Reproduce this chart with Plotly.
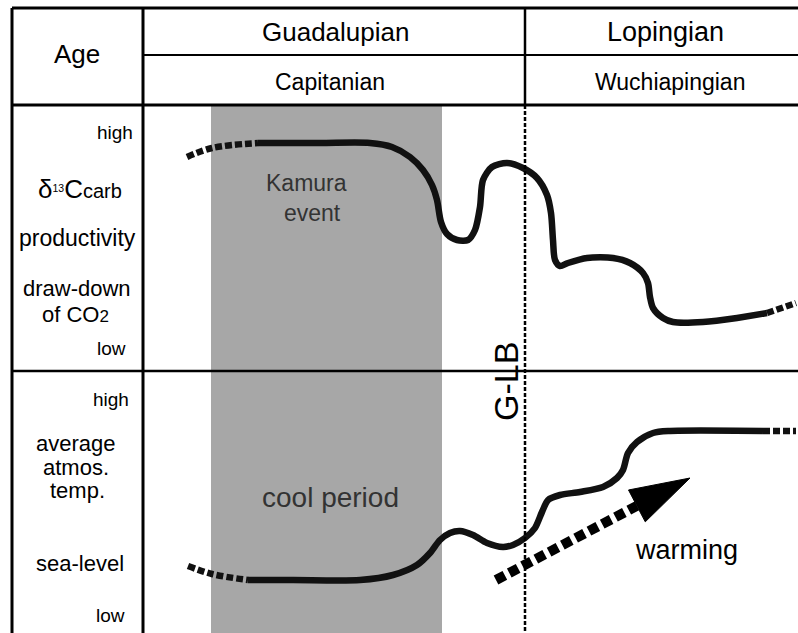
import numpy as np
import plotly.graph_objects as go

# ---- canvas units (schematic coordinates) ----
W, H = 798, 633

# upper panel curve: d13C / productivity / CO2 draw-down
upper_x = [258, 320, 370, 392, 410, 423, 432, 437, 441, 447, 457, 468, 475, 480, 483, 492,
           507, 523, 537, 547, 551, 553, 555, 560, 568, 587, 613, 630, 643, 648, 650, 653,
           663, 673, 703, 737, 767]
upper_y = [143, 143, 143, 147, 157, 170, 185, 200, 222, 234, 240, 240, 230, 207, 180, 167,
           163, 168, 178, 195, 213, 240, 260, 266, 263, 258, 258, 263, 273, 283, 297, 308,
           318, 322, 322, 318, 313]
upper_lead_x = [187, 212, 258]
upper_lead_y = [157, 148, 143]
upper_tail_x = [767, 796]
upper_tail_y = [313, 303]

# lower panel curve: temperature / sea-level
lower_x = [248, 293, 360, 393, 417, 430, 440, 450, 460, 473, 487, 503, 513, 525, 535, 542,
           548, 560, 580, 603, 617, 623, 628, 637, 653, 670, 763]
lower_y = [580, 580, 580, 575, 565, 553, 540, 533, 531, 535, 543, 547, 545, 538, 528, 512,
           500, 495, 492, 487, 478, 470, 453, 442, 433, 431, 431]
lower_lead_x = [188, 212, 248]
lower_lead_y = [566, 574, 580]
lower_tail_x = [763, 796]
lower_tail_y = [431, 431]

# warming arrow
arrow_start = (496, 580)
arrow_tip = (690, 478)
head_len, head_wid = 60, 36

# table structure
col_left, col_div, era_div = 12, 143, 525
row_top, row_mid, row_head, row_panel = 8, 55, 105, 371
shade_x = (211, 442)
glb_x = 525

header_top = ["Guadalupian", "Lopingian"]
header_top_x = [335, 665]
header_sub = ["Capitanian", "Wuchiapingian"]
header_sub_x = [330, 670]

fig = go.Figure()

ink = "#111111"
LW = 6.5
fig.add_trace(go.Scatter(x=upper_lead_x, y=upper_lead_y, mode="lines",
                         line=dict(color=ink, width=LW, dash="7px,3px", shape="spline"),
                         hoverinfo="skip"))
fig.add_trace(go.Scatter(x=upper_x, y=upper_y, mode="lines",
                         line=dict(color=ink, width=LW, shape="spline", smoothing=0.8),
                         hoverinfo="skip"))
fig.add_trace(go.Scatter(x=upper_tail_x, y=upper_tail_y, mode="lines",
                         line=dict(color=ink, width=LW, dash="7px,3px"), hoverinfo="skip"))
fig.add_trace(go.Scatter(x=lower_lead_x, y=lower_lead_y, mode="lines",
                         line=dict(color=ink, width=LW, dash="7px,3px", shape="spline"),
                         hoverinfo="skip"))
fig.add_trace(go.Scatter(x=lower_x, y=lower_y, mode="lines",
                         line=dict(color=ink, width=LW, shape="spline", smoothing=0.8),
                         hoverinfo="skip"))
fig.add_trace(go.Scatter(x=lower_tail_x, y=lower_tail_y, mode="lines",
                         line=dict(color=ink, width=LW, dash="7px,3px"), hoverinfo="skip"))

# arrow: dashed shaft + filled head
sx, sy = arrow_start
tx, ty = arrow_tip
d = np.array([tx - sx, ty - sy], dtype=float)
L = np.hypot(*d)
u = d / L
n = np.array([-u[1], u[0]])
base = np.array([tx, ty]) - u * head_len
fig.add_trace(go.Scatter(x=[sx, base[0]], y=[sy, base[1]], mode="lines",
                         line=dict(color="black", width=10, dash="10px,5px"), hoverinfo="skip"))
p1 = base + n * head_wid / 2
p2 = base - n * head_wid / 2
fig.add_trace(go.Scatter(x=[tx, p1[0], p2[0], tx], y=[ty, p1[1], p2[1], ty], mode="lines",
                         fill="toself", fillcolor="black", line=dict(color="black", width=1),
                         hoverinfo="skip"))

shapes = []
# shaded interval
shapes.append(dict(type="rect", x0=shade_x[0], x1=shade_x[1], y0=row_head, y1=H,
                   fillcolor="#a7a7a7", line=dict(width=0), layer="below"))
# G-LB boundary
shapes.append(dict(type="line", x0=glb_x, x1=glb_x, y0=row_head, y1=H,
                   line=dict(color="black", width=2.5, dash="4px,2px")))
thick = 3
def hline(y, x0, x1, w):
    shapes.append(dict(type="line", x0=x0, x1=x1, y0=y, y1=y, line=dict(color="black", width=w)))
def vline(x, y0, y1, w):
    shapes.append(dict(type="line", x0=x, x1=x, y0=y0, y1=y1, line=dict(color="black", width=w)))
hline(row_top, col_left, W, thick)
hline(row_mid, col_div, W, 2)
hline(row_head, col_left, W, thick)
hline(row_panel, col_left, W, 2.5)
vline(col_left, row_top, H, thick)
vline(col_div, row_top, H, thick)
vline(era_div, row_top, row_head, 2.5)

FONT = "Liberation Sans, Arial, sans-serif"
ann = []
def txt(x, y, s, size, xanchor="center", color="black", angle=0):
    ann.append(dict(x=x, y=y, text=s, showarrow=False, xanchor=xanchor, yanchor="middle",
                    font=dict(family=FONT, size=size, color=color), textangle=angle))

txt(77, 54, "Age", 26)
txt(header_top_x[0], 32, header_top[0], 26)
txt(header_top_x[1], 32, header_top[1], 27)
for s, x in zip(header_sub, header_sub_x):
    txt(x, 82, s, 23)

# upper panel labels
txt(135, 132, "high", 19, xanchor="right")
txt(80, 189, "<span style='font-size:26px'>δ</span><sup>13</sup>"
             "<span style='font-size:26px'>C</span><span style='font-size:20px'>carb</span>", 15)
txt(77, 238, "productivity", 23)
txt(77, 288, "draw-down", 22)
txt(75, 314, "of CO<span style='font-size:17px'>2</span>", 22)
txt(128, 348, "low", 19, xanchor="right")

# lower panel labels
txt(131, 399, "high", 19, xanchor="right")
txt(76, 443, "average", 22)
txt(76, 467, "atmos.", 22)
txt(77, 490, "temp.", 22)
txt(80, 563, "sea-level", 22)
txt(127, 615, "low", 19, xanchor="right")

txt(306, 183, "Kamura", 23, color="#333333")
txt(312, 213, "event", 23, color="#333333")
txt(330, 497, "cool period", 28, color="#333333")
txt(686, 550, "warming", 27)
txt(506, 382, "G-LB", 34, angle=-90)

fig.update_layout(
    width=W, height=H, margin=dict(l=0, r=0, t=0, b=0),
    paper_bgcolor="white", plot_bgcolor="white", showlegend=False,
    xaxis=dict(range=[0, W], visible=False, fixedrange=True),
    yaxis=dict(range=[H, 0], visible=False, fixedrange=True),
    shapes=shapes, annotations=ann,
)
fig.write_html("out.html", config={"displayModeBar": False},
               post_script="document.body.style.margin='0px';document.body.style.overflow='hidden';")
